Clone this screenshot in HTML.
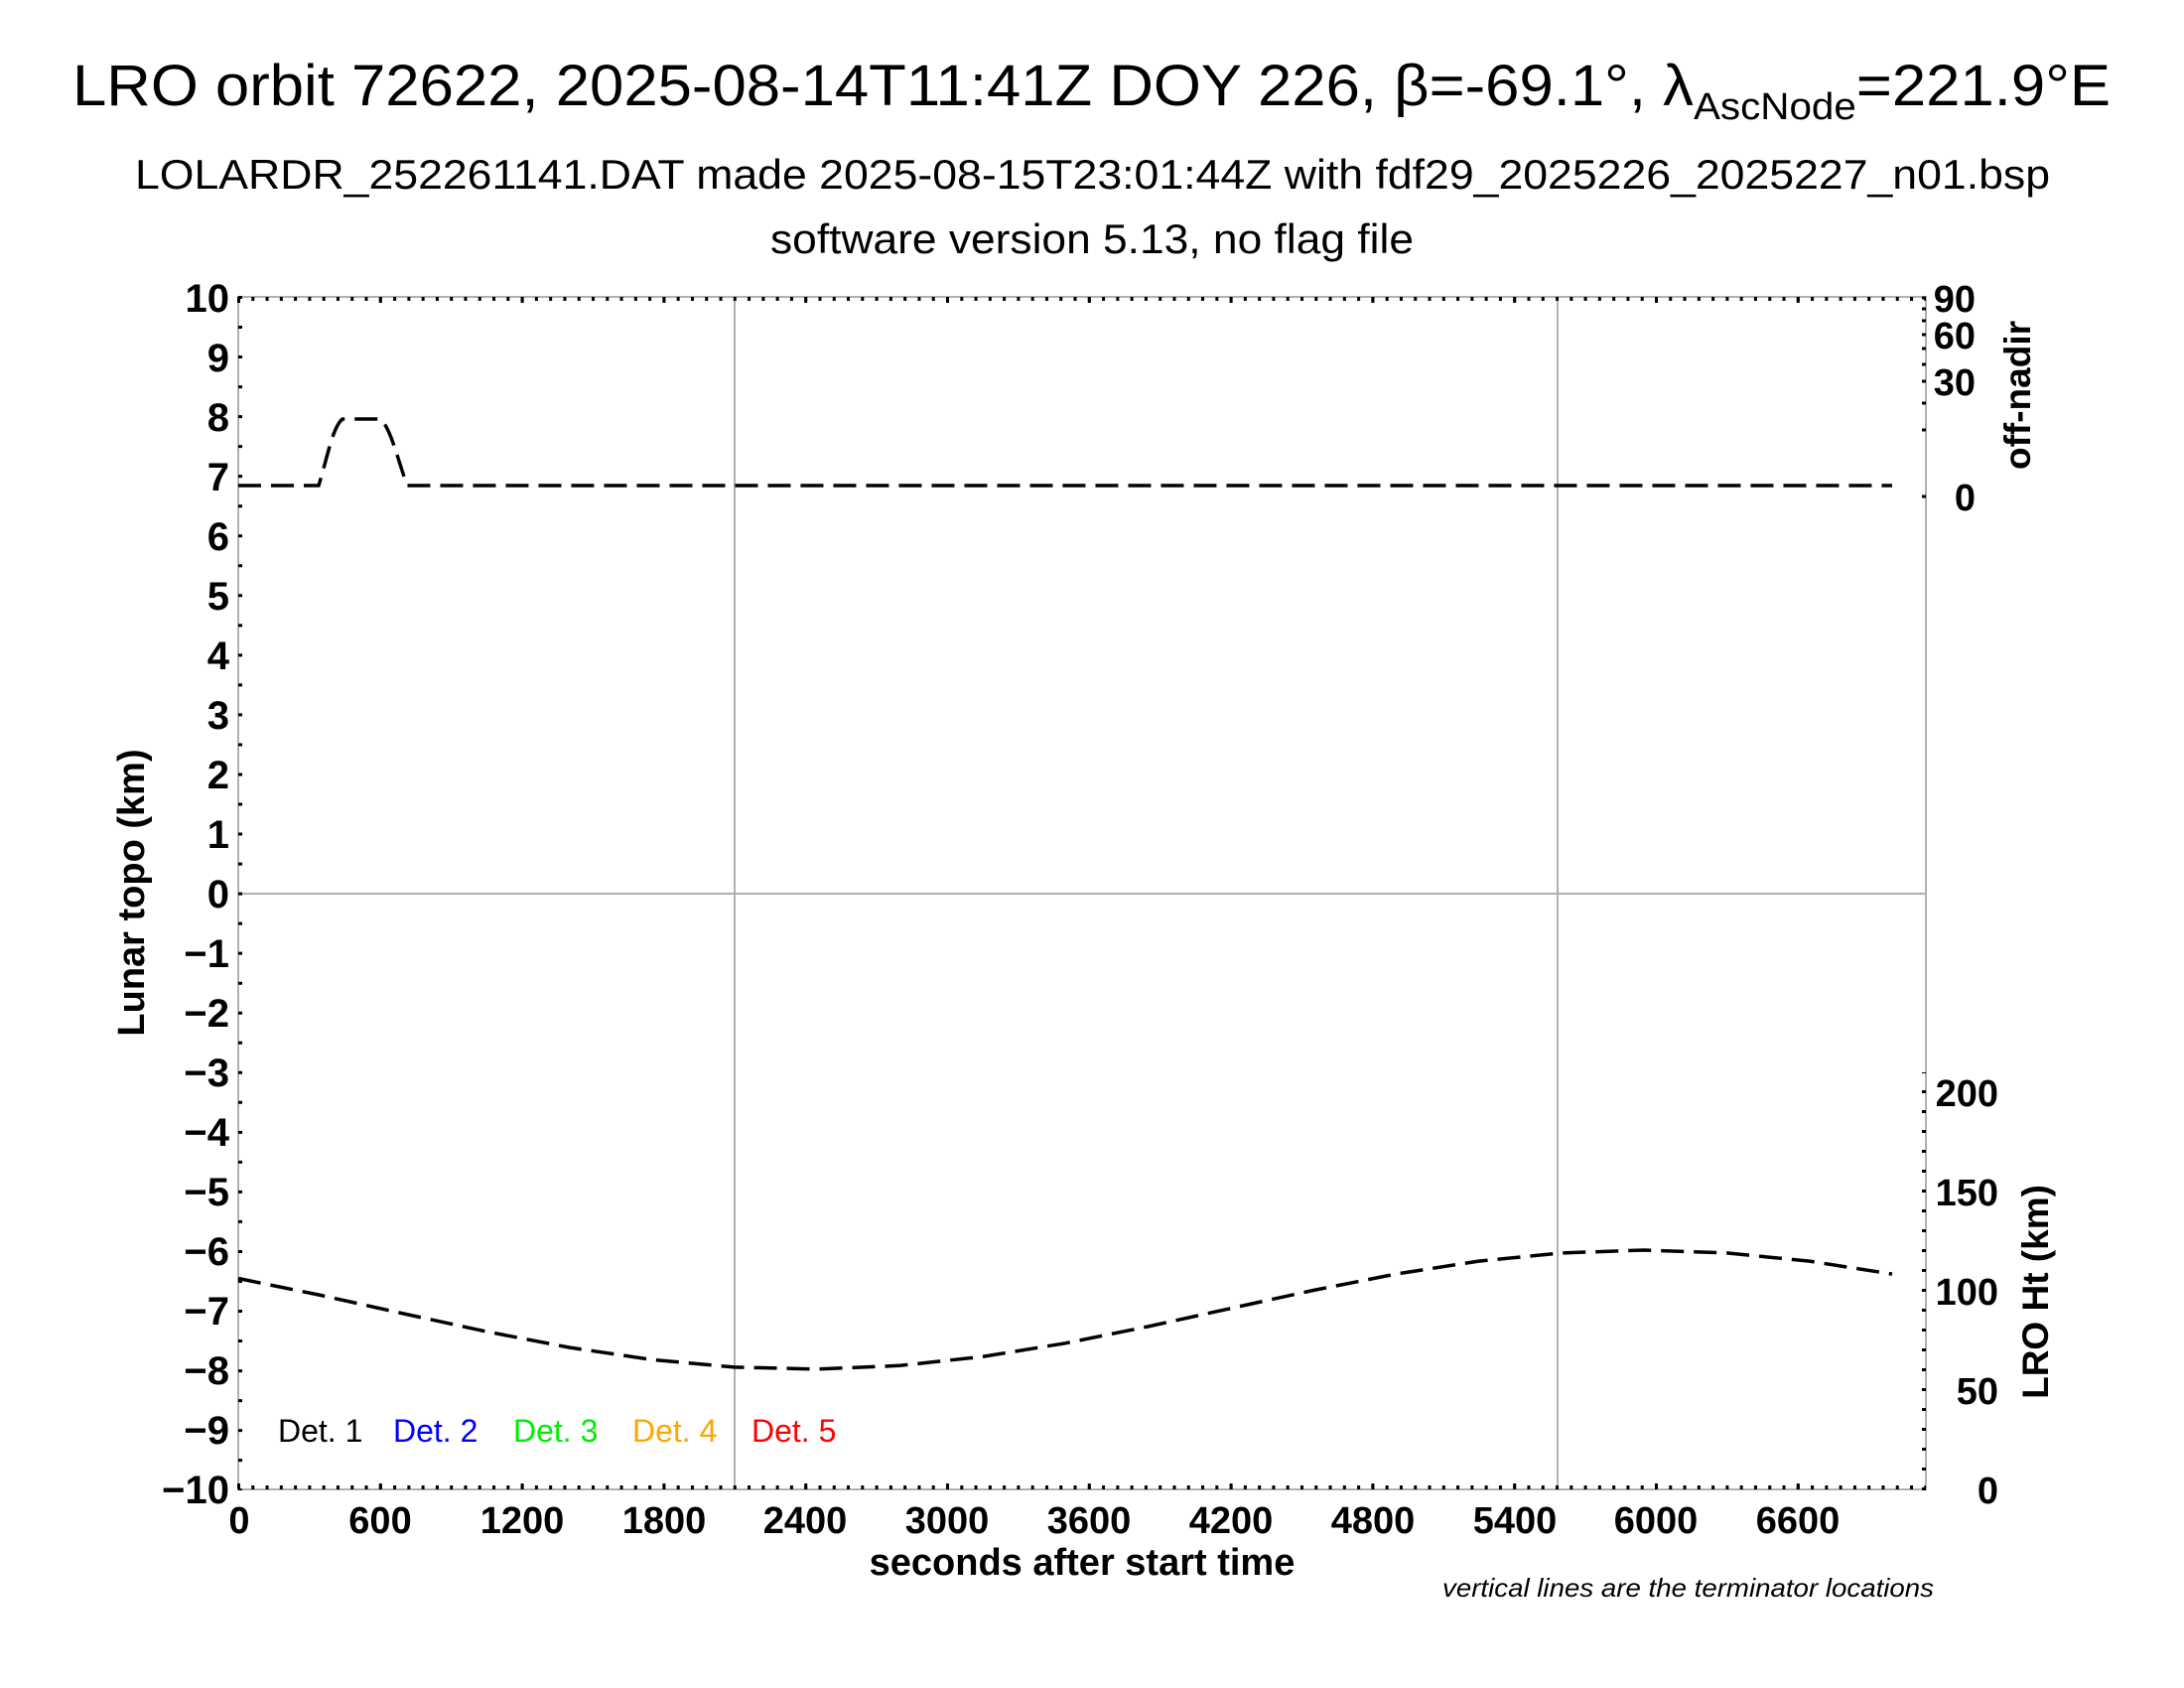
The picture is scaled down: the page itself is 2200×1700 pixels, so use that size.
<!DOCTYPE html>
<html><head><meta charset="utf-8"><style>
html,body{margin:0;padding:0;background:#fff;}
svg{display:block;}
text{font-family:"Liberation Sans",Arial,sans-serif;}
</style></head><body>
<svg width="2200" height="1700" viewBox="0 0 2200 1700" xmlns="http://www.w3.org/2000/svg">
<rect width="2200" height="1700" fill="#fff"/>
<text x="73" y="106" font-size="58" textLength="2053" lengthAdjust="spacingAndGlyphs">LRO orbit 72622, 2025-08-14T11:41Z DOY 226, β=-69.1°, λ<tspan font-size="38" dy="14">AscNode</tspan><tspan dy="-14">=221.9°E</tspan></text>
<text x="136" y="190" font-size="42" textLength="1929" lengthAdjust="spacingAndGlyphs">LOLARDR_252261141.DAT made 2025-08-15T23:01:44Z with fdf29_2025226_2025227_n01.bsp</text>
<text x="776" y="255" font-size="42" textLength="648" lengthAdjust="spacingAndGlyphs">software version 5.13, no flag file</text>

<g stroke="#b0b0b0" stroke-width="2" fill="none">
<rect x="240" y="299" width="1700" height="1201"/>
<line x1="240" y1="900" x2="1940" y2="900"/>
<line x1="740" y1="299" x2="740" y2="1500"/>
<line x1="1569" y1="299" x2="1569" y2="1500"/>
</g>
<g stroke="#000" fill="none">
<line x1="239" y1="1498" x2="1940" y2="1498" stroke-width="4" stroke-dasharray="3 11.28"/>
<line x1="239" y1="1497" x2="1940" y2="1497" stroke-width="6" stroke-dasharray="3 139.8"/>
<line x1="239" y1="301" x2="1940" y2="301" stroke-width="4" stroke-dasharray="3 11.28"/>
<line x1="239" y1="302" x2="1940" y2="302" stroke-width="6" stroke-dasharray="3 139.8"/>
<line x1="242" y1="298" x2="242" y2="1501" stroke-width="4" stroke-dasharray="3 27.03"/>
<line x1="1938" y1="1501" x2="1938" y2="1080" stroke-width="4" stroke-dasharray="3 17"/>
<path d="M1936,300h4M1936,311h4M1936,323h4M1936,337h4M1936,351h4M1936,367h4M1936,384h4M1936,406h4M1936,433h4M1936,500h4" stroke-width="3"/>
</g>

<g font-size="40" text-anchor="end" font-weight="bold">
<text x="231" y="314">10</text>
<text x="231" y="374">9</text>
<text x="231" y="434">8</text>
<text x="231" y="494">7</text>
<text x="231" y="554">6</text>
<text x="231" y="614">5</text>
<text x="231" y="674">4</text>
<text x="231" y="734">3</text>
<text x="231" y="794">2</text>
<text x="231" y="854">1</text>
<text x="231" y="914">0</text>
<text x="231" y="974">−1</text>
<text x="231" y="1034">−2</text>
<text x="231" y="1094">−3</text>
<text x="231" y="1154">−4</text>
<text x="231" y="1214">−5</text>
<text x="231" y="1274">−6</text>
<text x="231" y="1334">−7</text>
<text x="231" y="1394">−8</text>
<text x="231" y="1454">−9</text>
<text x="231" y="1514">−10</text>
</g>
<g font-size="38" text-anchor="middle" font-weight="bold">
<text x="241" y="1544">0</text>
<text x="383" y="1544">600</text>
<text x="526" y="1544">1200</text>
<text x="669" y="1544">1800</text>
<text x="811" y="1544">2400</text>
<text x="954" y="1544">3000</text>
<text x="1097" y="1544">3600</text>
<text x="1240" y="1544">4200</text>
<text x="1383" y="1544">4800</text>
<text x="1526" y="1544">5400</text>
<text x="1668" y="1544">6000</text>
<text x="1811" y="1544">6600</text>
</g>
<g font-size="38" text-anchor="end" font-weight="bold">
<text x="1990" y="314">90</text>
<text x="1990" y="351">60</text>
<text x="1990" y="398">30</text>
<text x="1990" y="514">0</text>
<text x="2013" y="1114">200</text>
<text x="2013" y="1214">150</text>
<text x="2013" y="1314">100</text>
<text x="2013" y="1414">50</text>
<text x="2013" y="1514">0</text>
</g>
<text x="1090" y="1586" font-size="38" font-weight="bold" text-anchor="middle">seconds after start time</text>
<text transform="translate(145,899) rotate(-90)" font-size="38" font-weight="bold" text-anchor="middle">Lunar topo (km)</text>
<text transform="translate(2045,398) rotate(-90)" font-size="37" font-weight="bold" text-anchor="middle">off-nadir</text>
<text transform="translate(2063,1301) rotate(-90)" font-size="37" font-weight="bold" text-anchor="middle">LRO Ht (km)</text>
<text x="1453" y="1608" font-size="26" font-style="italic" textLength="495" lengthAdjust="spacingAndGlyphs">vertical lines are the terminator locations</text>

<g font-size="32">
<text x="280" y="1452" fill="#000">Det. 1</text>
<text x="396" y="1452" fill="#0000ff">Det. 2</text>
<text x="517" y="1452" fill="#00ee00">Det. 3</text>
<text x="637" y="1452" fill="#ffa500">Det. 4</text>
<text x="757" y="1452" fill="#ff0000">Det. 5</text>
</g>

<g stroke="#000" stroke-width="3.5" fill="none" stroke-dasharray="23 10">
<path d="M240,489 L321,489 C330,460 335,430 345,422 L383,422 C393,430 400,460 410,489 L1906,489"/>
<polyline points="240,1287.5 323.3,1304.5 406.6,1323 489.9,1341 573.2,1357 656.5,1369.3 739.8,1376.9 823.1,1378.9 906.4,1375.3 989.7,1366.3 1073,1352.8 1156.3,1336 1239.6,1317.7 1322.9,1299.5 1406.2,1283.1 1489.5,1270.1 1572.8,1261.9 1656.1,1259 1739.4,1261.9 1822.7,1270.1 1906,1283.1"/>
</g>
</svg>
</body></html>
